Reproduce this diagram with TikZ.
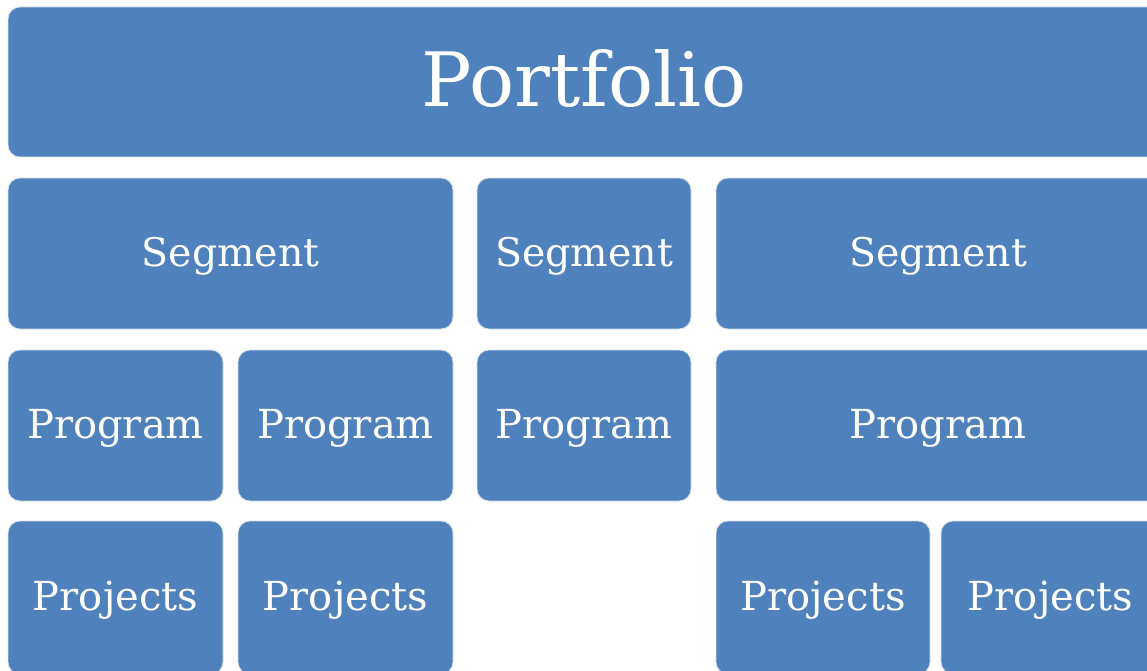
\documentclass[tikz,border=0pt]{standalone}
\usepackage{fontspec}
\setmainfont{DejaVu Serif}
\definecolor{boxblue}{HTML}{4F81BD}
\definecolor{boxedge}{HTML}{D6E0EE}
\tikzset{
  blk/.style={fill=boxblue, draw=boxedge, line width=0.8pt, rounded corners=12pt},
  lbl/.style={text=white, inner sep=0pt, yshift=-3pt},
}
\newcommand{\blkat}[6]{% name, x1, y1, x2, y2, text
  \path[blk] (#2,#3) rectangle (#4,#5);
  \node[lbl] (#1) at ({(#2+#4)/2},{(#3+#5)/2}) {#6};
}
\begin{document}
\begin{tikzpicture}[x=1pt,y=-1pt]
\useasboundingbox (0,0) rectangle (1147,671);
\begin{scope}
\clip (0,0) rectangle (1147,671);
\path[blk] (8,7) rectangle (1160,157);
\node[text=white, inner sep=0pt] (portfolio) at (584,79) {\fontsize{75}{80}\selectfont Portfolio};
\blkat{seg1}{8}{178}{453}{329}{\fontsize{39.5}{44}\selectfont Segment}
\blkat{seg2}{477}{178}{691}{329}{\fontsize{39.5}{44}\selectfont Segment}
\blkat{seg3}{716}{178}{1160}{329}{\fontsize{39.5}{44}\selectfont Segment}
\blkat{prog1}{8}{350}{223}{501}{\fontsize{40}{44}\selectfont Program}
\blkat{prog2}{238}{350}{453}{501}{\fontsize{40}{44}\selectfont Program}
\blkat{prog3}{477}{350}{691}{501}{\fontsize{40}{44}\selectfont Program}
\blkat{prog4}{716}{350}{1160}{501}{\fontsize{40}{44}\selectfont Program}
\blkat{proj1}{8}{521}{223}{674}{\fontsize{40}{44}\selectfont Projects}
\blkat{proj2}{238}{521}{453}{674}{\fontsize{40}{44}\selectfont Projects}
\blkat{proj3}{716}{521}{930}{674}{\fontsize{40}{44}\selectfont Projects}
\blkat{proj4}{941}{521}{1160}{674}{\fontsize{40}{44}\selectfont Projects}
\end{scope}
\end{tikzpicture}
\end{document}
